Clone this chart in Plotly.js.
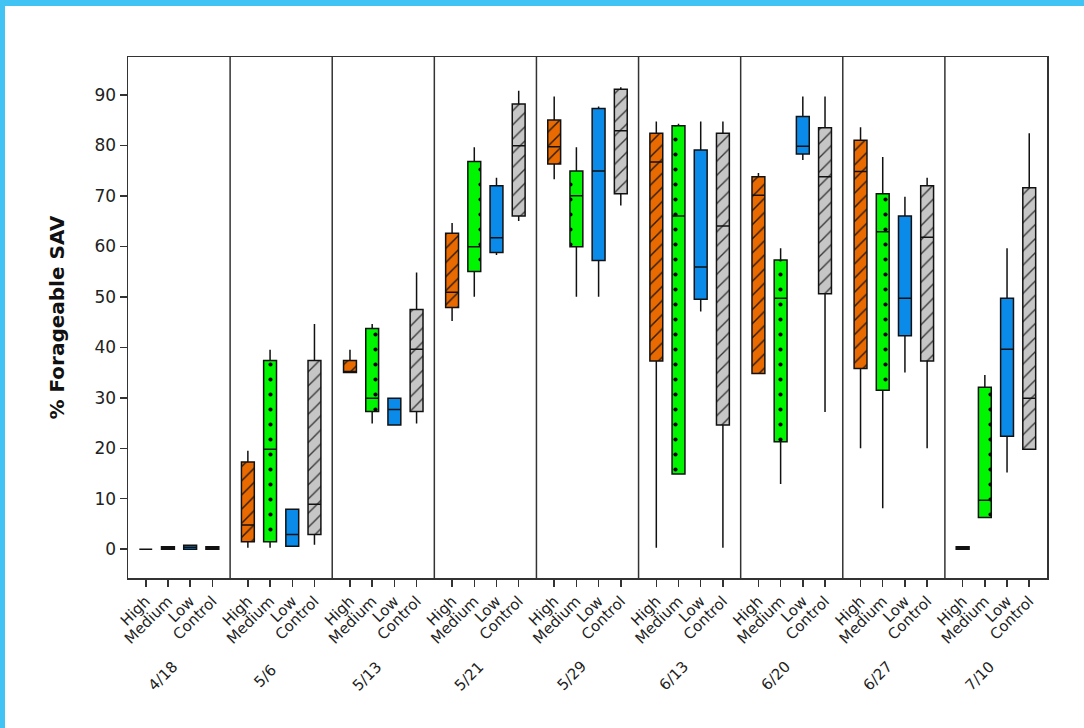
<!DOCTYPE html>
<html>
<head>
<meta charset="utf-8">
<script src="https://cdn.plot.ly/plotly-3.0.1.min.js"></script>
<style>
  html, body { margin: 0; padding: 0; background: #ffffff; }
  #wrap { position: relative; width: 1084px; height: 728px; overflow: hidden; }
  #chart { position: absolute; left: 0; top: 0; width: 1084px; height: 728px; }
  .edge { position: absolute; background: #41C4F3; }
</style>
</head>
<body>
<div id="wrap">
  <div id="chart"></div>
  <div class="edge" style="left:0;top:0;width:1084px;height:6px;"></div>
  <div class="edge" style="left:0;top:0;width:5px;height:728px;"></div>
</div>
<script>
// Sampling dates and treatment levels
const dates = ['4/18', '5/6', '5/13', '5/21', '5/29', '6/13', '6/20', '6/27', '7/10'];
const treatments = ['High', 'Medium', 'Low', 'Control'];

// Box statistics (% forageable SAV) per treatment, one value per date
const highLo  = [0, 0.3, 35.0, 45.2, 73.3, 0.3, 34.8, 20.0, 0];
const highQ1  = [0, 1.5, 35.0, 47.9, 76.3, 37.3, 34.8, 35.8, 0];
const highMed = [0, 4.8, 35.0, 50.9, 79.7, 76.7, 70.1, 74.8, 0.2];
const highQ3  = [0, 17.3, 37.4, 62.6, 85.0, 82.4, 73.8, 81.0, 0.5];
const highHi  = [0, 19.5, 39.5, 64.6, 89.7, 84.7, 74.5, 83.6, 0.5];

const medLo  = [0, 0.3, 24.9, 50.0, 50.0, 14.9, 12.9, 8.1, 6.3];
const medQ1  = [0, 1.5, 27.3, 55.0, 59.9, 14.9, 21.3, 31.5, 6.3];
const medMed = [0, 19.8, 29.9, 59.9, 70.0, 66.0, 49.7, 62.9, 9.7];
const medQ3  = [0.5, 37.4, 43.7, 76.8, 74.9, 83.9, 57.3, 70.4, 32.1];
const medHi  = [0.5, 39.5, 44.6, 79.6, 79.6, 84.3, 59.6, 77.7, 34.5];

const lowLo  = [0, 0.6, 24.6, 58.3, 50.0, 47.1, 77.1, 35.0, 15.2];
const lowQ1  = [0, 0.6, 24.6, 58.8, 57.2, 49.5, 78.3, 42.3, 22.4];
const lowMed = [0.4, 2.9, 27.7, 61.7, 74.9, 55.9, 79.8, 49.7, 39.6];
const lowQ3  = [0.8, 7.9, 29.9, 72.0, 87.3, 79.1, 85.7, 66.0, 49.7];
const lowHi  = [0.8, 7.9, 29.9, 73.6, 87.7, 84.7, 89.7, 69.8, 59.6];

const ctlLo  = [0, 0.9, 24.9, 65.0, 68.1, 0.3, 27.2, 20.0, 19.8];
const ctlQ1  = [0, 2.9, 27.3, 66.0, 70.4, 24.6, 50.6, 37.3, 19.8];
const ctlMed = [0, 8.9, 39.6, 79.9, 82.9, 64.0, 73.8, 61.8, 29.9];
const ctlQ3  = [0.5, 37.4, 47.5, 88.2, 91.1, 82.4, 83.5, 72.0, 71.6];
const ctlHi  = [0.5, 44.6, 54.8, 90.8, 91.5, 84.7, 89.7, 73.6, 82.4];

// Panel layout on the shared x axis
const PANEL = 4.6;      // width of one date panel in axis units
const FIRST = 0.8;      // offset of the first box inside a panel
const BOXW = 0.58;      // box width in axis units

const series = [
  { name: 'High',    lo: highLo, q1: highQ1, med: highMed, q3: highQ3, hi: highHi,
    color: '#E86A00', pattern: { shape: '/', fgcolor: '#2a1a10', size: 10, solidity: 0.14 } },
  { name: 'Medium',  lo: medLo,  q1: medQ1,  med: medMed,  q3: medQ3,  hi: medHi,
    color: '#00F500', pattern: { shape: '.', fgcolor: '#000000', size: 15, solidity: 0.06 } },
  { name: 'Low',     lo: lowLo,  q1: lowQ1,  med: lowMed,  q3: lowQ3,  hi: lowHi,
    color: '#0A8BEA', pattern: null },
  { name: 'Control', lo: ctlLo,  q1: ctlQ1,  med: ctlMed,  q3: ctlQ3,  hi: ctlHi,
    color: '#C6C6C6', pattern: { shape: '/', fgcolor: '#3a3a3a', size: 10, solidity: 0.14 } }
];

const pos = (d, t) => d * PANEL + FIRST + t;

const traces = [];
// Filled (and hatched) box bodies
series.forEach((s, t) => {
  const x = dates.map((_, d) => pos(d, t));
  const marker = { color: s.color, line: { width: 0 } };
  if (s.pattern) {
    marker.pattern = Object.assign({ bgcolor: s.color, fillmode: 'replace' }, s.pattern);
  }
  traces.push({
    type: 'bar', name: s.name, x: x,
    base: s.q1, y: s.q3.map((v, i) => v - s.q1[i]),
    width: BOXW, marker: marker, showlegend: false, hoverinfo: 'skip'
  });
});
// Outlines, medians and whiskers
series.forEach((s, t) => {
  traces.push({
    type: 'box', name: s.name,
    x: dates.map((_, d) => pos(d, t)),
    q1: s.q1, median: s.med, q3: s.q3, lowerfence: s.lo, upperfence: s.hi,
    width: BOXW, whiskerwidth: 0, boxpoints: false,
    fillcolor: 'rgba(0,0,0,0)', line: { color: '#111111', width: 1.5 },
    showlegend: false
  });
});

const tickvals = [], ticktext = [];
dates.forEach((_, d) => treatments.forEach((tr, t) => { tickvals.push(pos(d, t)); ticktext.push(tr); }));

const shapes = [];
for (let k = 1; k < dates.length; k++) {
  shapes.push({ type: 'line', xref: 'x', yref: 'paper', x0: k * PANEL, x1: k * PANEL, y0: 0, y1: 1,
                line: { color: '#333333', width: 1.5 } });
}

const annotations = dates.map((dt, d) => ({
  text: dt, xref: 'x', yref: 'paper', x: d * PANEL + PANEL / 2, y: -0.188,
  xshift: -16, showarrow: false, textangle: -45,
  font: { size: 15, color: '#222222' }, xanchor: 'center', yanchor: 'middle'
}));

const layout = {
  width: 1084, height: 728,
  margin: { l: 128, r: 37, t: 57, b: 150 },
  paper_bgcolor: '#ffffff', plot_bgcolor: '#ffffff',
  font: { family: 'DejaVu Sans, Verdana, sans-serif', color: '#222222' },
  barmode: 'overlay', boxmode: 'overlay',
  showlegend: false,
  xaxis: {
    range: [0, dates.length * PANEL], tickmode: 'array', tickvals: tickvals, ticktext: ticktext,
    tickangle: -45, ticks: 'outside', ticklen: 7, tickcolor: '#333333', tickwidth: 1.5,
    tickfont: { size: 15, color: '#222222' },
    showline: true, linecolor: '#333333', linewidth: 1.5, mirror: true,
    showgrid: false, zeroline: false, fixedrange: true
  },
  yaxis: {
    range: [-5.7, 97.5], tickmode: 'array', tickvals: [0, 10, 20, 30, 40, 50, 60, 70, 80, 90],
    ticks: 'outside', ticklen: 7, tickcolor: '#333333', tickwidth: 1.5,
    tickfont: { size: 17, color: '#222222' },
    showline: true, linecolor: '#333333', linewidth: 1.5, mirror: true,
    showgrid: false, zeroline: false,
    title: { text: '<b>% Forageable SAV</b>', font: { size: 20, color: '#111111' }, standoff: 24 }
  },
  shapes: shapes,
  annotations: annotations
};

Plotly.newPlot('chart', traces, layout, { displayModeBar: false, staticPlot: true });
</script>
</body>
</html>
